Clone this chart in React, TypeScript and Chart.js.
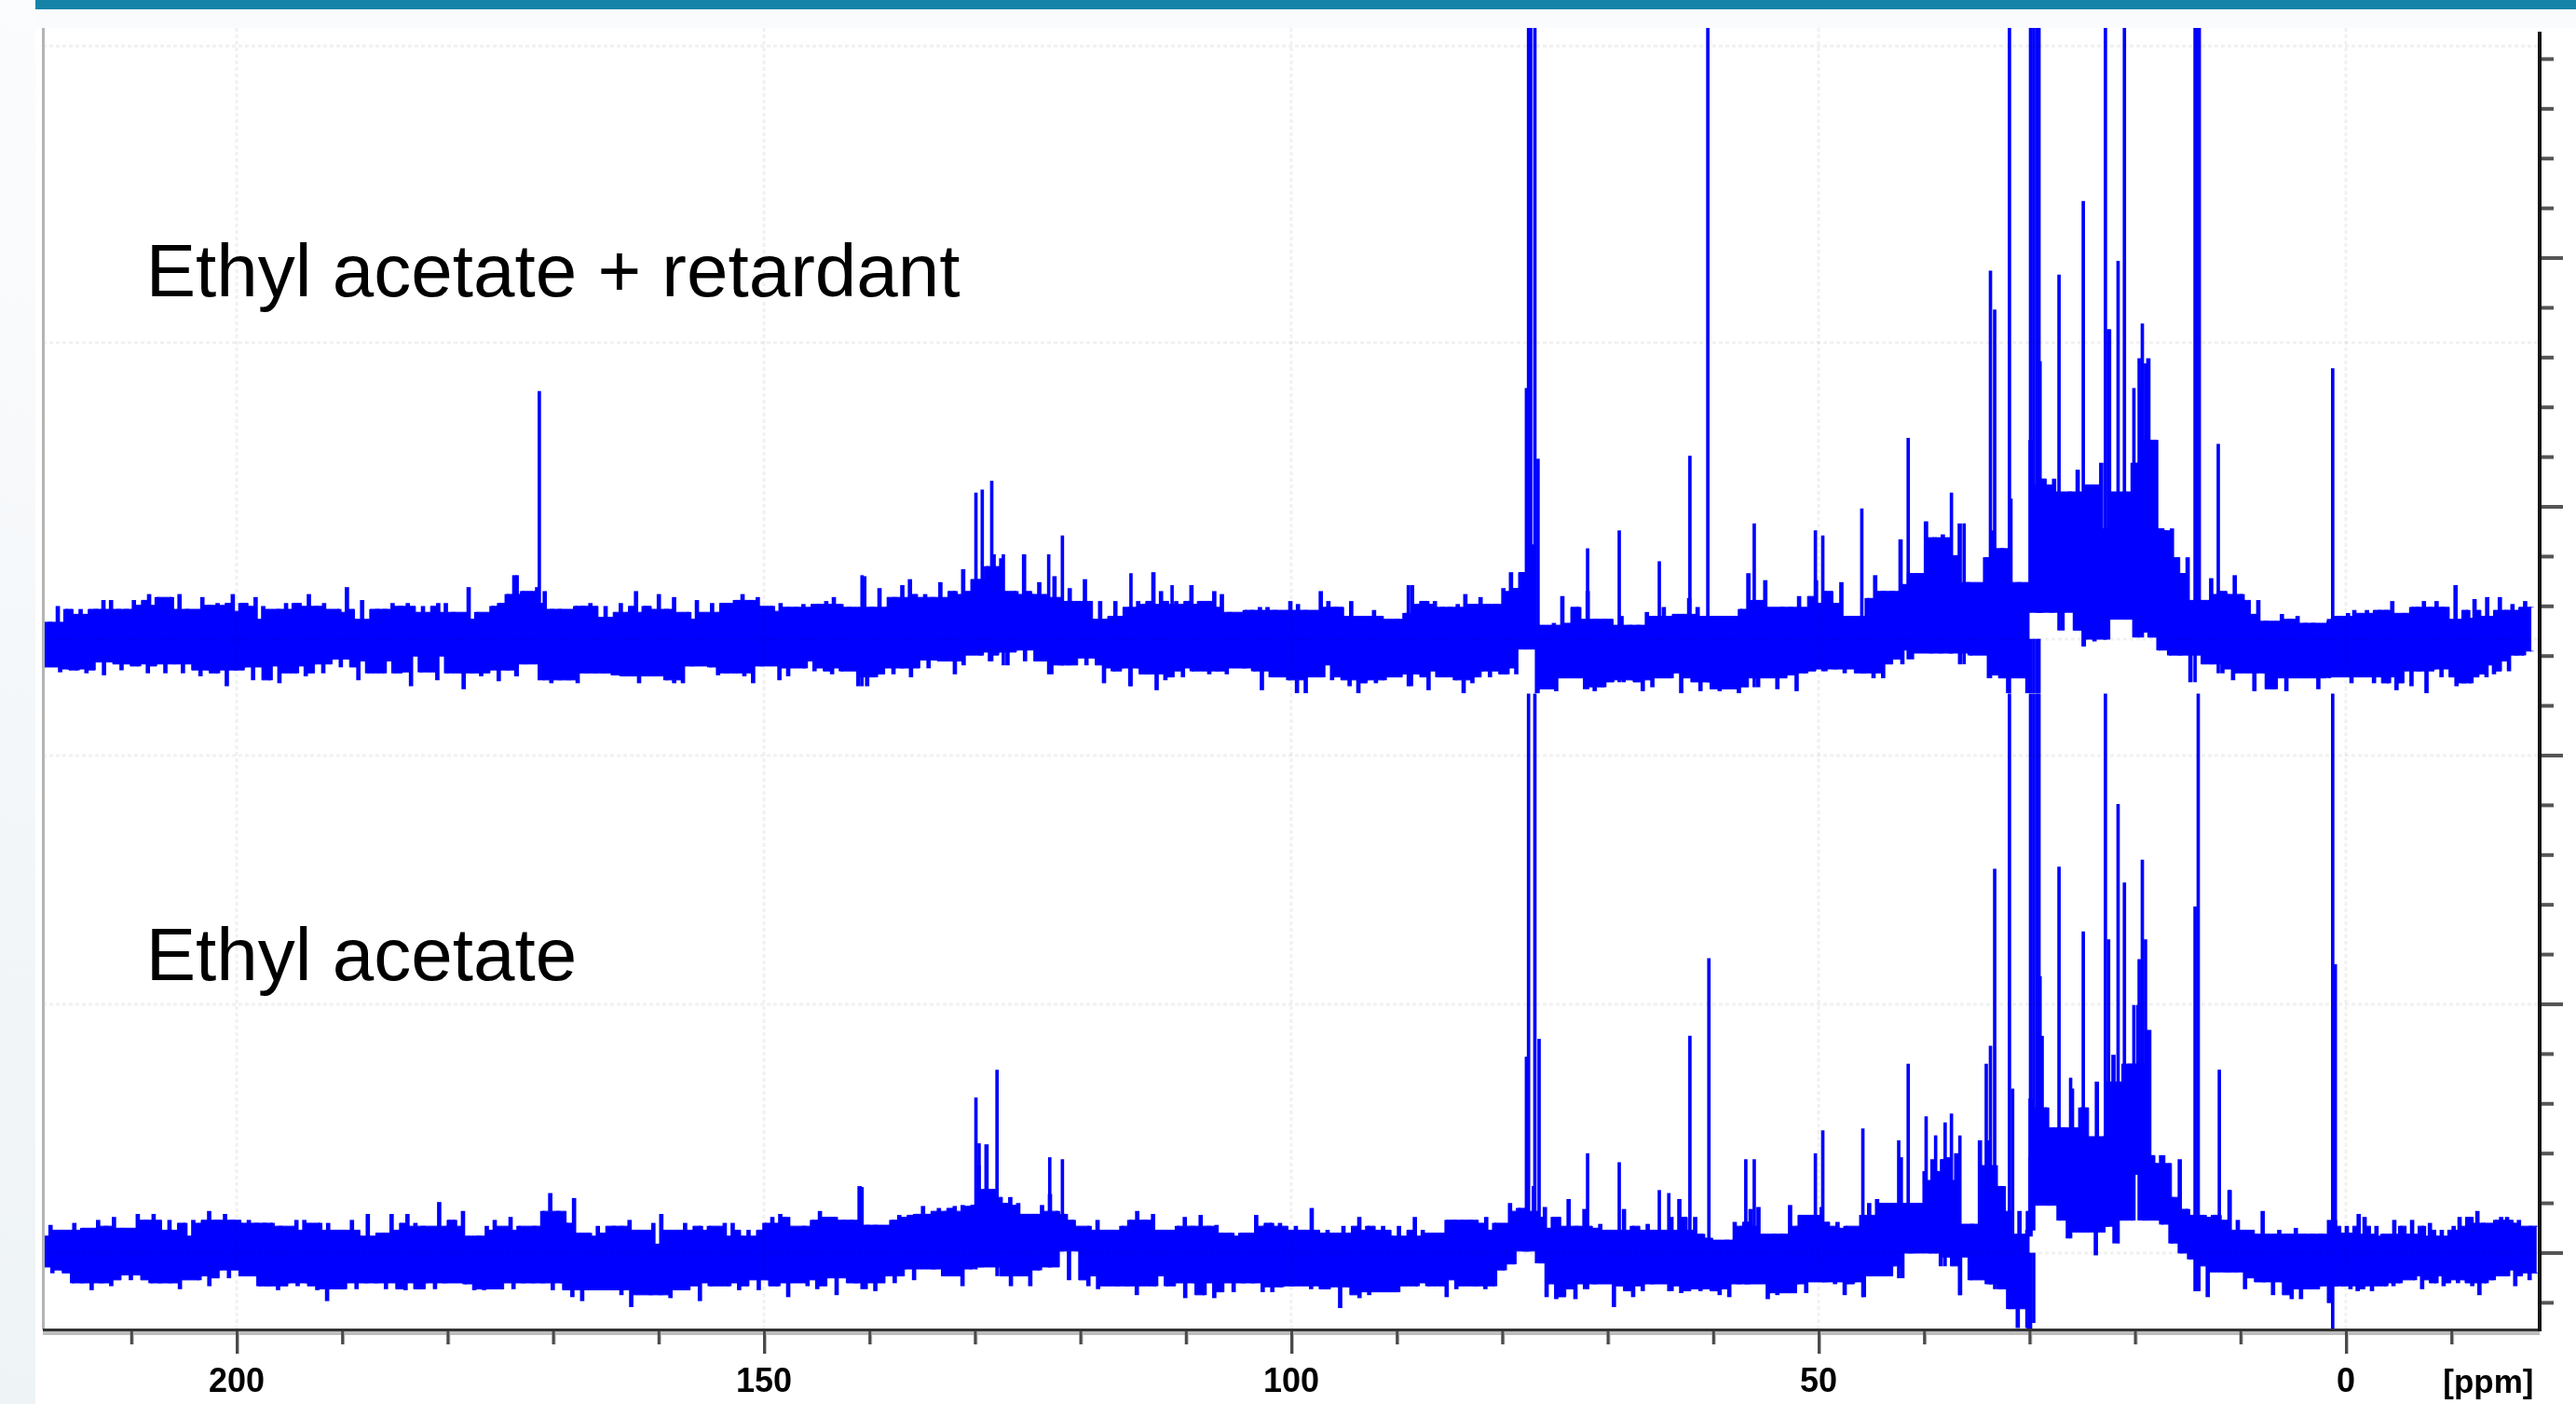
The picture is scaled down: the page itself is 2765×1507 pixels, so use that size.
import React, { useEffect, useRef } from "react";
import { Chart, registerables } from "chart.js";

Chart.register(...registerables);

const W = 2765;
const H = 1507;
const FONT = '"Liberation Sans", Arial, sans-serif';

const seriesNames = ["Ethyl acetate + retardant", "Ethyl acetate"];
const axisLabels = [200, 150, 100, 50, 0];
const unitLabel = "[ppm]";

// spectrum baselines
const topBaseline = 617;
const bottomBaseline = 0;

// ppm limits of the stretches the envelope values were read over
const spanA = [218.4, 147.7];
const spanB = [147.7, 77.0];
const spanC1 = [76.7, 30.2];
const spanC2 = [29.9, 1.6];
const spanDTop = [1.6, -17.6];
const spanDBottom = [1.6, -18.1];

// Upper spectrum: noise envelope above and below its baseline
const topUpperA = [17,17,33,30,17,30,25,30,39,39,30,30,39,34,45,42,23,42,45,30,16,42,34,36,28,45,36,20,42,33,16,30,36,36,22,45,33,36,27,30,52,20,39,16,30,30,36,33,36,27,33,19,36,36,27,16,52,27,20,33,36,45,64,48,36,52,48,30,30,11,33,33,36,22,33,22,36,27,48,33,20,45,30,42,20,27,39,16,36,27,36,39,45,39,42,19,33,36,28];
const topLowerA = [-28,-27,-33,-30,-31,-34,-23,-36,-17,-31,-25,-27,-34,-16,-34,-25,-34,-14,-37,-31,-34,-47,-31,-28,-41,-22,-41,-44,-27,-34,-37,-25,-34,-20,-28,-20,-41,-34,-22,-34,-34,-17,-47,-33,-17,-41,-34,-17,-50,-34,-37,-22,-42,-31,-37,-25,-17,-41,-44,-41,-41,-44,-34,-34,-34,-36,-37,-37,-44,-37,-37,-41,-44,-44,-27,-17,-28,-36,-34,-34,-37,-44,-27,-8,-41,-37];
const topUpperB = [32,32,35,20,35,38,42,35,32,29,63,32,51,32,42,54,60,27,45,42,57,35,48,70,45,60,73,85,81,42,48,85,45,57,42,63,38,51,38,60,20,38,20,38,23,32,38,35,67,48,32,38,35,54,38,32,48,45,27,23,29,29,32,32,29,20,38,35,29,23,48,38,32,23,38,10,23,29,23,10,20,26,54,35,38,38,32,32,35,45,23,42,35,35,51,67,48,67,95];
const topLowerB = [-29,-22,-29,-32,-22,-35,-32,-29,-47,-47,-38,-22,-35,-29,-38,-21,-29,-16,-22,-35,-26,-13,-16,-22,-13,-26,-11,-22,-2,-22,-35,-26,-26,-13,-26,-19,-44,-32,-29,-47,-29,-35,-51,-41,-29,-38,-32,-29,-35,-32,-35,-22,-29,-32,-51,-38,-32,-41,-54,-54,-26,-38,-41,-22,-47,-54,-41,-44,-41,-38,-35,-47,-32,-51,-38,-32,-41,-54,-44,-32,-38,-29,-35,-35,-10,-1];
const topUpperC1 = [14,2,16,43,14,32,48,20,20,7,23,14,14,27,23,32,20,25,41,32,16,23,23,23,30,66,39,59,30,32,32,43,30,59,48,36,57,23,23,41,64,48,48,100,66,55,118,102,105,84,116,57,41,82,109,91,141,57,41];
const topUpperC2 = [200,168,155,161,116,148,170,155,75,177,311,111,148,177,252,282,200,109,111,66,82,39,14,61,48,45,64,45,25,39,18,14,25,20,23,16,16,14,18];
const topLowerC1 = [-54,-50,-52,-39,-39,-50,-52,-48,-34,-43,-41,-52,-48,-34,-39,-54,-34,-52,-43,-52,-50,-54,-2,-48,-39,-50,-36,-52,-34,-25,-32,-30,-34,-27,-34,-39,-39,-11,-25,-20,-5,-14,-14,-14,-25,-16,16,-39,-36,-54,-39,-54];
const topLowerC2 = [36,27,27,9,34,-7,-2,0,25,20,2,7,-11,-16,-16,-43,9,-25,-34,-41,-30,-52,-34,-50,-52,-39,-39,-50,-39];
const topUpperD = [20,23,23,26,29,17,29,26,29,29,38,15,26,32,32,38,32,38,32,18,54,20,29,40,21,42,23,42,29,35,26,38,32];
const topLowerD = [-38,-35,-38,-44,-38,-38,-44,-38,-44,-51,-26,-47,-32,-54,-30,-38,-26,-47,-44,-44,-26,-38,-35,-22,-32,-16,-16,-12];

// Lower spectrum: noise envelope
const bottomUpperA = [17,28,23,23,30,25,20,33,27,36,25,11,39,33,39,23,33,17,30,33,17,42,33,39,33,30,33,30,30,30,27,23,33,33,16,30,30,23,23,33,17,39,11,20,39,23,39,30,27,17,51,27,33,42,11,17,27,33,23,36,27,8,27,42,60,42,30,55,17,20,27,17,27,27,33,23,3,30,39,9,23,30,23,27,27,17,30,30,17,23,11,30,36,39,27];
const bottomLowerA = [-14,-20,-17,-30,-30,-37,-30,-33,-17,-27,-22,-30,-30,-30,-36,-23,-27,-33,-17,-25,-11,-23,-33,-33,-37,-30,-33,-30,-37,-48,-36,-17,-36,-30,-30,-36,-23,-37,-36,-30,-36,-30,-23,-31,-37,-37,-36,-20,-36,-30,-30,-30,-37,-30,-44,-48,-37,-30,-37,-42,-54,-33,-42,-42,-45,-37,-20,-48,-33,-30,-33,-37,-20,-37,-27,-33,-44];
const bottomUpperB = [36,23,27,33,42,36,36,33,33,67,28,28,27,33,38,36,39,47,39,45,42,47,48,42,88,109,64,48,56,50,38,39,48,59,42,39,33,23,27,33,23,20,27,33,42,33,39,23,23,27,36,27,38,27,28,14,20,20,17,38,27,30,30,17,27,23,45,14,23,20,27,20,36,27,23,27,17,27,14,36,23,17,20,33,33,33,33,17,36,30,23,50,45,42,67];
const bottomLowerB = [-30,-27,-33,-36,-25,-42,-20,-30,-36,-38,-23,-30,-16,-27,-11,-16,-23,-23,-33,-16,-14,14,-23,-33,-23,-33,-17,-14,2,-27,2,-33,-36,-23,-33,-33,-42,-20,-33,-33,-23,-45,-30,-42,-45,-23,-39,-30,-30,-39,-39,-34,-33,-22,-36,-36,-33,-55,-34,-45,-42,-39,-39,-39,-30,-33,-33,-27,-44,-36,-25,-33,-36,-33,-17,-11,2,30];
const bottomUpperC1 = [19,46,36,25,54,27,44,25,29,10,23,44,27,23,29,23,23,36,54,23,36,19,15,2,13,31,27,44,46,17,19,19,48,27,38,38,46,25,31,27,23,38,50,54,27,50,96,50,31,82,94,73,96,100,27,29,113,113,88,67,19,42,17];
const bottomUpperC2 = [155,178,146,117,126,165,146,65,172,117,199,172,190,249,224,90,98,56,94,44,36,38,38,23,63,33,23,19,42,15,23,19,25,19,19,19,8];
const bottomLowerC1 = [-10,-44,-46,-31,-46,-36,-31,-29,-54,-33,-44,-38,-31,-29,-38,-40,-33,-38,-36,-42,-44,-31,-31,-17,-46,-42,-40,-31,-40,-17,-29,-31,-42,-29,-44,-23,-23,-13,-25,0,4,0,-13,-4,-42,-27,2,-31,-36,-56,-75,-75];
const bottomLowerC2 = [23,96,48,33,15,21,21,-2,27,10,79,33,33,98,29,10,0,-6,-38,-44,-13,-19,-19,-36,-25,-29,-42,-29,-46,-46,-36,-33,-50];
const bottomUpperD = [33,33,20,27,19,39,36,11,27,19,17,33,27,19,33,17,27,30,17,23,16,27,36,23,36,42,30,11,33,36,36,30,33,23,27,27];
const bottomLowerD = [-20,-33,-33,-36,-38,-33,-38,-17,-33,-33,-30,-23,-27,-36,-23,-30,-33,-23,-30,-27,-33,-42,-30,-27,-17,-23,-33,-11,-27,-20];

// Individual narrow resonances: position and height above the baseline
const topPeakPpm = [173.4,171.3,140.7,129.9,129.3,128.4,127.3,123.0,121.7,115.2,111.3,88.9,77.7,77.5,77.3,76.9,76.6,71.9,68.9,65.1,62.2,60.5,56.1,50.3,49.6,45.9,41.5,39.8,37.4,36.2,33.7,33.3,31.9,29.9,29.6,29.3,29.1,29.0,27.2,24.9,22.8,22.5,21.6,21.0,20.1,19.6,19.3,19.0,14.3,14.1,13.9,12.1,1.25];
const topPeakHeight = [64,249,64,147,150,159,85,85,104,66,54,54,252,614,614,614,181,91,109,78,184,614,116,109,104,131,202,118,147,116,370,331,614,614,614,614,614,279,366,440,614,311,380,614,252,282,317,277,614,614,614,196,272];
const bottomPeakPpm = [140.7,129.9,129.6,127.9,122.9,121.7,77.7,77.5,76.9,76.5,71.9,68.9,65.1,64.2,62.2,60.4,56.9,56.1,50.3,49.6,45.8,42.4,41.5,39.8,38.9,38.0,37.4,36.6,34.1,33.7,33.3,31.9,31.6,29.9,29.6,29.3,29.1,29.0,28.8,27.2,26.1,24.9,22.8,22.5,21.6,21.0,20.1,19.6,19.3,19.0,18.6,14.3,14.0,12.0,11.0,1.25,1.0];
const bottomPeakHeight = [66,156,110,184,96,94,197,562,562,215,100,91,63,60,218,296,94,94,100,123,125,113,190,137,118,131,140,118,190,208,386,562,165,562,562,562,562,278,218,388,176,323,562,315,451,372,249,295,395,315,224,348,562,184,63,562,290];

// Where the strongest resonances run below their band: position and depth
const topDipPpm = [29.9,29.6,29.3,29.1];
const topDipDepth = [-54,-54,-54,-54];
const bottomDipPpm = [30.1,29.9,29.6,1.25];
const bottomDipDepth = [-76,-76,-70,-76];

// Faint rows of the grid in axis units, and the axis limits
const gridRows = [0, 250, 500, 617, 915, 1213];
const xMin = -18.375;
const xMax = 218.375;
const yMin = -76.8;
const yMax = 1231.3;

type Stretch = [number[], number[]];
type Pt = { x: number; y: number };

function envelope(parts: Stretch[], base: number): Pt[] {
  const out: Pt[] = [];
  parts.forEach(([vals, span]) => {
    vals.forEach((v, i) => {
      const f = vals.length > 1 ? i / (vals.length - 1) : 0;
      out.push({ x: span[0] + (span[1] - span[0]) * f, y: base + v });
    });
  });
  return out.reverse();
}

// The solid body of the band between two read columns: the second lowest of
// the four columns around it, so single spikes and notches do not widen it.
function plateaus(pts: Pt[], sign: number): Pt[] {
  const out: Pt[] = [pts[0]];
  for (let i = 0; i < pts.length - 1; i++) {
    const around = [pts[Math.max(i - 1, 0)].y, pts[i].y, pts[i + 1].y, pts[Math.min(i + 2, pts.length - 1)].y];
    around.sort((a, b) => (a - b) * sign);
    out.push({ x: (pts[i].x + pts[i + 1].x) / 2, y: around[1] });
  }
  out.push(pts[pts.length - 1]);
  return out;
}

// Each read column rises from the band as a narrow stem.
function stems(pts: Pt[], sign: number) {
  const pick = (a: number, b: number) => (sign > 0 ? Math.min(a, b) : Math.max(a, b));
  return pts.map((p, i) => {
    const prev = pts[Math.max(i - 1, 0)].y;
    const next = pts[Math.min(i + 1, pts.length - 1)].y;
    const foot = pick(pick(prev, next), p.y);
    return { x: p.x, y: [Math.min(foot, p.y), Math.max(foot, p.y)] };
  });
}

// A resonance starts from the lower edge of the band at its own position.
function sticks(ppm: number[], height: number[], base: number, lower: Pt[]) {
  return ppm.map((p, i) => {
    let foot = lower[0];
    lower.forEach((q) => {
      if (Math.abs(q.x - p) < Math.abs(foot.x - p)) foot = q;
    });
    const v = base + height[i];
    return { x: p, y: [Math.min(foot.y, v), v] };
  });
}

function dips(ppm: number[], depth: number[], base: number) {
  return ppm.map((p, i) => ({ x: p, y: [base + depth[i], base] }));
}

const blue = "#0000ff";

const decorations = {
  id: "decorations",
  afterDatasetsDraw(chart: any) {
    const { ctx, chartArea: a, scales } = chart;
    const { x, y } = scales;
    ctx.save();
    ctx.strokeStyle = "rgba(0,0,0,0.055)";
    ctx.lineWidth = 3;
    ctx.setLineDash([4, 3]);
    gridRows.forEach((v) => {
      const p = y.getPixelForValue(v);
      ctx.beginPath();
      ctx.moveTo(a.left, p);
      ctx.lineTo(a.right, p);
      ctx.stroke();
    });
    axisLabels.forEach((v) => {
      const p = x.getPixelForValue(v);
      ctx.beginPath();
      ctx.moveTo(p, a.top);
      ctx.lineTo(p, a.bottom);
      ctx.stroke();
    });
    ctx.restore();
  },
  afterDraw(chart: any) {
    const { ctx, chartArea: a, scales } = chart;
    const { x, y } = scales;
    ctx.save();
    ctx.fillStyle = "#b4b4b4";
    ctx.fillRect(a.left - 1, a.top, 3, a.bottom - a.top);
    ctx.fillStyle = "#bcbcbc";
    ctx.fillRect(a.left, a.bottom + 2, a.right - a.left, 4);
    ctx.fillStyle = "#333333";
    ctx.fillRect(a.left, a.bottom - 1, a.right - a.left + 2, 3);
    ctx.fillStyle = "#141414";
    ctx.fillRect(a.right - 2, a.top + 4, 4, a.bottom - a.top - 2);
    x.ticks.forEach((t: any) => {
      const p = x.getPixelForValue(t.value);
      const major = Math.round(t.value) % 50 === 0;
      ctx.fillStyle = "#bbbbbb";
      ctx.fillRect(p - 1, a.bottom + 2, 4, major ? 24 : 14);
      ctx.fillStyle = "#4a4a4a";
      ctx.fillRect(p - 1, a.bottom + 2, 3, major ? 24 : 14);
    });
    y.ticks.forEach((t: any) => {
      const p = y.getPixelForValue(t.value);
      const major = Math.round(t.value) % 250 === 0;
      ctx.fillStyle = "#555555";
      ctx.fillRect(a.right + 2, p - 2, major ? 23 : 13, 4);
    });
    ctx.fillStyle = "#000";
    ctx.textAlign = "center";
    ctx.textBaseline = "middle";
    ctx.font = `bold 35px ${FONT}`;
    ctx.fillText(unitLabel, x.getPixelForValue(-13.5), a.bottom + 58);
    ctx.font = `80px ${FONT}`;
    ctx.textAlign = "left";
    ctx.textBaseline = "alphabetic";
    ctx.fillText(seriesNames[0], x.getPixelForValue(208.6), y.getPixelForValue(962));
    ctx.fillText(seriesNames[1], x.getPixelForValue(208.6), y.getPixelForValue(274));
    ctx.restore();
  },
};

export default function App() {
  const ref = useRef<HTMLCanvasElement>(null);
  useEffect(() => {
    document.body.style.margin = "0";
    const band = (label: string, data: any, fill: any) => ({
      type: "line",
      label,
      data,
      borderColor: blue,
      backgroundColor: blue,
      borderWidth: 1,
      pointRadius: 0,
      stepped: "middle",
      fill,
      order: 2,
    });
    const stick = (label: string, data: any, thickness = 3) => ({
      type: "bar",
      label,
      data,
      backgroundColor: blue,
      borderWidth: 0,
      barThickness: thickness,
      grouped: false,
      order: 1,
    });
    const tU = envelope([[topUpperA, spanA], [topUpperB, spanB], [topUpperC1, spanC1], [topUpperC2, spanC2], [topUpperD, spanDTop]], topBaseline);
    const tL = envelope([[topLowerA, spanA], [topLowerB, spanB], [topLowerC1, spanC1], [topLowerC2, spanC2], [topLowerD, spanDTop]], topBaseline);
    const bU = envelope([[bottomUpperA, spanA], [bottomUpperB, spanB], [bottomUpperC1, spanC1], [bottomUpperC2, spanC2], [bottomUpperD, spanDBottom]], bottomBaseline);
    const bL = envelope([[bottomLowerA, spanA], [bottomLowerB, spanB], [bottomLowerC1, spanC1], [bottomLowerC2, spanC2], [bottomLowerD, spanDBottom]], bottomBaseline);
    const chart = new Chart(ref.current as HTMLCanvasElement, {
      data: {
        datasets: [
          band("top upper", plateaus(tU, 1), "+1"),
          band("top lower", plateaus(tL, -1), false),
          band("bottom upper", plateaus(bU, 1), "+1"),
          band("bottom lower", plateaus(bL, -1), false),
          stick("top upper stems", stems(tU, 1), 4),
          stick("top lower stems", stems(tL, -1), 4),
          stick("bottom upper stems", stems(bU, 1), 4),
          stick("bottom lower stems", stems(bL, -1), 4),
          stick("top peaks", sticks(topPeakPpm, topPeakHeight, topBaseline, tL)),
          stick("bottom peaks", sticks(bottomPeakPpm, bottomPeakHeight, bottomBaseline, bL)),
          stick("top dips", dips(topDipPpm, topDipDepth, topBaseline)),
          stick("bottom dips", dips(bottomDipPpm, bottomDipDepth, bottomBaseline)),
        ] as any,
      },
      options: {
        responsive: false,
        animation: false,
        devicePixelRatio: 1,
        layout: { padding: { left: 46, top: 30, right: 0, bottom: 0 } },
        plugins: { legend: { display: false }, title: { display: false }, tooltip: { enabled: false } },
        scales: {
          x: {
            type: "linear",
            reverse: true,
            min: xMin,
            max: xMax,
            offset: false,
            grid: { display: false, drawTicks: false },
            border: { display: false },
            afterFit: (s: any) => { s.height = 80; },
            ticks: {
              stepSize: 10,
              includeBounds: false,
              autoSkip: false,
              maxRotation: 0,
              padding: 35,
              color: "#000",
              font: { family: FONT, size: 36, weight: "bold" },
              callback: (v: any) => (axisLabels.includes(Math.round(v)) ? String(Math.round(v)) : ""),
            },
          },
          y: {
            type: "linear",
            position: "right",
            min: yMin,
            max: yMax,
            grid: { display: false, drawTicks: false },
            border: { display: false },
            afterFit: (s: any) => { s.width = 39; },
            ticks: { display: false, stepSize: 50, includeBounds: false },
          },
        },
      } as any,
      plugins: [decorations],
    });
    return () => chart.destroy();
  }, []);
  return (
    <div style={{ position: "absolute", left: 0, top: 0, width: W, height: H, background: "#fff", overflow: "hidden" }}>
      <div style={{ position: "absolute", left: 0, top: 0, width: 38, height: H, background: "linear-gradient(#fbfcfe,#eef3f5)" }} />
      <div style={{ position: "absolute", left: 38, top: 10, width: W - 38, height: 20, background: "#fafbfd" }} />
      <div style={{ position: "absolute", left: 38, top: 0, width: W - 38, height: 10, background: "#1583a8" }} />
      <canvas ref={ref} width={W} height={H} style={{ position: "absolute", left: 0, top: 0, display: "block" }} />
    </div>
  );
}
